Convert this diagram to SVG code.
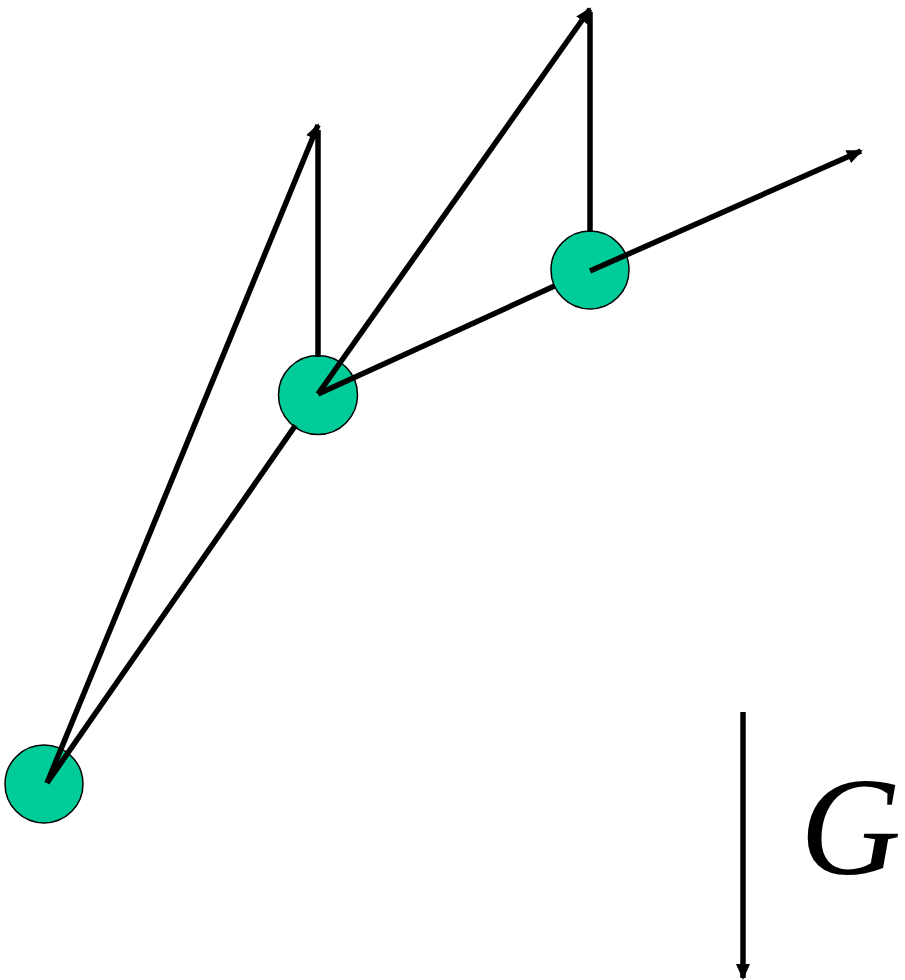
<svg xmlns="http://www.w3.org/2000/svg" width="905" height="980" viewBox="0 0 905 980">
<style>
.node{fill:#00CC99;stroke:#000;stroke-width:1.5}
.ln{stroke:#000;stroke-width:5.5;fill:none}
.arr{marker-end:url(#ah)}
</style>
<defs>
<marker id="ah" markerUnits="userSpaceOnUse" markerWidth="16" markerHeight="14" refX="14" refY="7" orient="auto">
<path d="M0,0 L16,7 L0,14 Z" fill="#000"/>
</marker>
</defs>
<rect width="905" height="980" fill="#fff"/>
<g id="node1"><circle class="node" cx="44" cy="784" r="39"/></g>
<g id="node2"><circle class="node" cx="318" cy="395" r="39.5"/></g>
<g id="node3"><circle class="node" cx="590" cy="270" r="39"/></g>
<g id="connectors">
<line class="ln" x1="318" y1="130" x2="318" y2="357"/>
<line class="ln" x1="590" y1="12" x2="590" y2="232"/>
<line class="ln arr" x1="47" y1="783" x2="318" y2="125"/>
<line class="ln" x1="47" y1="783" x2="295.4" y2="425.4"/>
<line class="ln arr" x1="318" y1="394" x2="590" y2="9"/>
<line class="ln" x1="318" y1="394" x2="554.5" y2="286.1"/>
<line class="ln arr" x1="590" y1="271" x2="861" y2="151"/>
<line class="ln arr" x1="743" y1="712" x2="743" y2="978"/>
</g>
<text x="800" y="874" font-family="Liberation Serif, serif" font-style="italic" font-size="140">G</text>
</svg>
